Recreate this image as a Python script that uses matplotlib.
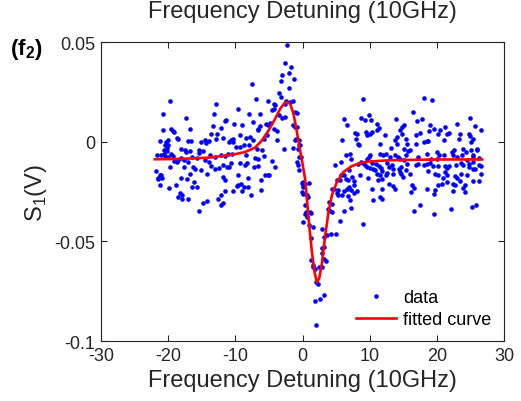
import numpy as np
import matplotlib.pyplot as plt

plt.rcParams['font.family'] = ['Liberation Sans', 'DejaVu Sans']
plt.rcParams['mathtext.fontset'] = 'custom'
plt.rcParams['mathtext.rm'] = 'Liberation Sans'
plt.rcParams['mathtext.bf'] = 'Liberation Sans:bold'
plt.rcParams['axes.unicode_minus'] = False

TXT = '#262626'

x_left = [
    -19.7, -12.9, -20.8, -13.2, -17.4, -11.5, -13.3, -20.8, -19.6, -19.2,
    -16.8, -12.1, -13.6, -12.8, -18.7, -18.5, -21.2, -20.0, -20.4, -17.1,
    -16.6, -15.1, -14.6, -14.0, -14.4, -12.9, -11.9, -20.2, -20.6, -18.1,
    -17.5, -16.8, -17.4, -15.5, -14.9, -15.4, -21.7, -21.1, -20.5, -19.6,
    -20.1, -18.1, -16.5, -15.8, -13.8, -13.0, -12.1, -11.5, -19.1, -18.7,
    -18.5, -17.6, -17.0, -14.5, -14.0, -19.8, -17.7, -16.3, -16.0, -15.1,
    -13.6, -13.0, -12.5, -11.9, -11.2, -21.8, -16.8, -14.2, -21.1, -21.5,
    -21.6, -20.9, -21.2, -18.1, -17.2, -11.8, -11.5, -16.2, -16.4, -15.7,
    -18.9, -19.9, -11.5, -18.2, -18.0, -18.6, -17.9, -17.1, -12.1, -12.6,
    -14.3, -14.9, -11.9, -12.1, -15.4, -19.3, -20.5, -20.1, -20.2, -20.6,
    -19.3, -21.2]
y_left = [
    0.0202, 0.0187, 0.0137, 0.0137, 0.0120, 0.0105, 0.0079, 0.0057, 0.0065, 0.0049,
    0.0065, 0.0070, 0.0037, 0.0037, 0.0020, 0.0015, 0.0005, 0.0007, -0.0002, 0.0002,
    0.0002, -0.0002, 0.0007, 0.0002, -0.0007, 0.0015, 0.0020, -0.0032, -0.0044, -0.0035,
    -0.0040, -0.0049, -0.0052, -0.0040, -0.0045, -0.0055, -0.0065, -0.0069, -0.0074, -0.0064,
    -0.0079, -0.0080, -0.0077, -0.0082, -0.0069, -0.0077, -0.0065, -0.0072, -0.0099, -0.0102,
    -0.0094, -0.0094, -0.0102, -0.0090, -0.0102, -0.0129, -0.0127, -0.0129, -0.0139, -0.0144,
    -0.0122, -0.0135, -0.0132, -0.0119, -0.0129, -0.0149, -0.0162, -0.0162, -0.0169, -0.0182,
    -0.0189, -0.0182, -0.0219, -0.0182, -0.0186, -0.0177, -0.0194, -0.0202, -0.0226, -0.0226,
    -0.0219, -0.0232, -0.0249, -0.0256, -0.0266, -0.0277, -0.0286, -0.0286, -0.0269, -0.0286,
    -0.0296, -0.0306, -0.0306, -0.0319, -0.0349, 0.0055, -0.0019, -0.0015, -0.0049, -0.0062,
    -0.0074, -0.0165]

x_peak = [
    -2.3, -2.6, -1.8, -3.1, -2.1, -1.3, -3.2, -7.6, -2.0, -3.5,
    -3.2, -7.0, -5.1, -4.3, -4.1, -2.5, -1.9, -1.5, -2.6, -9.7,
    -4.3, -4.6, -6.3, -8.0, -3.6, -3.1, -2.6, -11.4, -10.2, -9.0,
    -7.4, -5.5, -5.2, -4.9, -1.4, -1.1, -6.4, -6.6, -6.7, -4.2,
    -3.8, -9.4, -8.5, -7.8, -7.4, -5.3, -5.7, -10.6, -10.3, -11.0,
    -10.4, -3.8, -1.1, -9.9, -9.3, -8.7, -8.0, -6.8, -6.1, -2.8,
    -1.5, -0.7, -11.1, -10.5, -8.4, -7.1, -6.7, -5.7, -4.5, -0.9,
    -0.7, -10.7, -9.3, -8.6, -8.3, -7.3, -6.6, -11.0, -4.1, -9.6,
    -8.1, -5.6, -5.2, -5.0, -6.2, -9.6, -9.2, -9.8, -8.2, -8.8,
    -0.1, 0.1, -10.3, -9.0, -6.2, -7.7, 0.0]
y_peak = [
    0.0483, 0.0396, 0.0376, 0.0336, 0.0346, 0.0316, 0.0302, 0.0289, 0.0269, 0.0246,
    0.0226, 0.0214, 0.0204, 0.0191, 0.0182, 0.0202, 0.0199, 0.0202, 0.0187, 0.0164,
    0.0165, 0.0160, 0.0140, 0.0137, 0.0132, 0.0119, 0.0124, 0.0107, 0.0090, 0.0085,
    0.0099, 0.0089, 0.0085, 0.0094, 0.0085, 0.0074, 0.0077, 0.0065, 0.0057, 0.0065,
    0.0052, 0.0032, 0.0019, 0.0024, 0.0007, 0.0035, 0.0015, 0.0007, 0.0015, -0.0002,
    -0.0002, 0.0007, 0.0007, -0.0027, -0.0027, -0.0015, -0.0019, -0.0035, -0.0044, -0.0035,
    -0.0032, -0.0035, -0.0060, -0.0060, -0.0069, -0.0080, -0.0089, -0.0072, -0.0099, -0.0102,
    -0.0119, -0.0105, -0.0105, -0.0119, -0.0105, -0.0127, -0.0122, -0.0127, -0.0127, -0.0169,
    -0.0182, -0.0169, -0.0169, -0.0165, -0.0194, -0.0216, -0.0211, -0.0224, -0.0227, -0.0227,
    -0.0206, -0.0216, -0.0247, -0.0249, -0.0244, -0.0269, -0.0261]

x_dip = [
    -1.1, -0.9, -0.9, -1.0, -0.6, -0.5, -0.4, -0.5, -0.2, -0.5,
    0.0, 0.3, 0.9, 0.1, 0.6, 0.8, 0.4, 0.5, 1.1, 1.3,
    0.1, 1.0, 1.5, 1.2, 2.8, 3.6, 3.2, 3.1, 2.8, 2.9,
    1.3, 1.6, 1.5, 1.9, 2.4, 2.9, 3.2, 3.5, 2.0, 2.3,
    1.8, 2.5, 3.2, 2.0, 5.0, 4.2, 3.8, 4.3, 3.9, 4.4,
    4.1, 5.5, 6.1, 4.3, 4.7, 5.2, 5.1, 5.3, 5.8, 6.2,
    6.6, 6.9, 7.2, 7.6, 7.2, 7.1, 6.7, 8.1, 7.7, 7.6,
    5.7, 6.2, 6.9, 4.8, 5.7, 6.4, 5.9, 7.9, 8.2, 8.1,
    8.4, 7.8, 7.2, 8.3, 8.7, 9.0, 9.6, 9.8, 9.6, 9.7,
    9.0, 6.2, 6.6, 8.7, 9.2, 8.9, 9.9, 9.4, 0.4, 0.6,
    -0.1]
y_dip = [
    0.0149, 0.0145, 0.0074, 0.0015, 0.0007, -0.0015, -0.0019, -0.0077, -0.0077, -0.0144,
    -0.0202, -0.0211, -0.0206, -0.0227, -0.0266, -0.0277, -0.0316, -0.0353, -0.0353, -0.0356,
    -0.0403, -0.0416, -0.0428, -0.0483, -0.0440, -0.0470, -0.0480, -0.0528, -0.0558, -0.0533,
    -0.0595, -0.0620, -0.0628, -0.0637, -0.0628, -0.0628, -0.0587, -0.0600, -0.0704, -0.0712,
    -0.0799, -0.0787, -0.0771, -0.0918, -0.0461, -0.0463, -0.0336, -0.0311, -0.0302, -0.0353,
    -0.0345, -0.0400, -0.0350, -0.0239, -0.0239, -0.0244, -0.0256, -0.0266, -0.0269, -0.0249,
    -0.0236, -0.0227, -0.0244, -0.0256, -0.0333, -0.0294, -0.0272, -0.0249, -0.0219, -0.0199,
    -0.0165, -0.0169, -0.0144, -0.0119, -0.0102, -0.0065, 0.0007, 0.0015, -0.0010, 0.0040,
    -0.0015, 0.0045, -0.0089, -0.0110, -0.0102, -0.0105, -0.0085, -0.0077, -0.0127, -0.0182,
    -0.0411, 0.0112, 0.0085, 0.0119, 0.0107, 0.0212, 0.0135, 0.0049, -0.0361, -0.0378,
    -0.0252]

x_right_hi = [
    16.4, 18.0, 19.2, 10.1, 11.0, 11.4, 11.0, 10.3, 13.9, 14.5,
    15.1, 14.8, 17.0, 17.7, 17.5, 18.5, 19.0, 19.5, 20.1, 20.5,
    21.2, 21.5, 21.8, 22.9, 23.4, 24.9, 25.6, 26.6, 24.9, 25.3,
    25.0, 23.3, 24.8, 10.0, 12.3, 13.1, 13.8, 14.1, 14.8, 15.3,
    15.5, 16.9, 18.1, 18.7, 14.1, 9.5, 18.8, 20.0, 20.3, 22.2,
    22.5, 22.4, 23.8, 24.3, 23.0, 26.3, 25.4, 25.9, 26.0, 7.1,
    11.5, 12.0, 12.4, 11.5, 13.8, 14.2, 14.5, 15.0, 15.3, 15.7,
    16.0, 15.0, 16.9, 21.0, 25.1, 13.0, 17.2, 18.5, 19.1, 20.0,
    21.0, 23.7, 24.4, 25.3]
y_right_hi = [
    0.0149, 0.0219, 0.0211, 0.0107, 0.0090, 0.0069, 0.0057, 0.0049, 0.0112, 0.0057,
    0.0085, 0.0074, 0.0102, 0.0115, 0.0045, 0.0002, 0.0082, 0.0065, 0.0040, 0.0057,
    0.0074, 0.0040, 0.0045, 0.0090, 0.0040, 0.0120, 0.0077, 0.0057, 0.0029, 0.0012,
    -0.0002, 0.0012, 0.0040, 0.0040, 0.0032, -0.0030, 0.0007, 0.0024, 0.0040, 0.0012,
    -0.0010, 0.0032, -0.0002, 0.0002, -0.0010, 0.0032, 0.0052, -0.0052, -0.0065, -0.0052,
    -0.0044, -0.0065, -0.0039, -0.0052, -0.0077, -0.0082, -0.0069, -0.0035, -0.0044, -0.0060,
    -0.0060, -0.0067, -0.0060, -0.0010, -0.0069, -0.0077, -0.0085, -0.0094, -0.0069, -0.0049,
    -0.0044, -0.0035, -0.0010, 0.0007, -0.0044, -0.0077, -0.0077, -0.0060, -0.0085, -0.0089,
    -0.0069, -0.0069, -0.0094, -0.0077]

x_right_lo = [
    10.0, 10.3, 10.9, 11.3, 11.7, 12.6, 13.3, 13.5, 15.5, 15.3,
    14.5, 16.9, 17.2, 18.0, 18.5, 19.0, 18.7, 19.4, 20.2, 21.2,
    21.7, 21.5, 22.8, 23.5, 23.8, 24.8, 24.7, 25.3, 25.4, 26.2,
    26.5, 25.7, 9.3, 10.0, 10.5, 10.8, 11.8, 12.4, 12.8, 13.5,
    14.3, 14.7, 7.3, 8.5, 11.0, 11.5, 11.8, 12.5, 14.6, 16.0,
    19.7, 20.2, 21.1, 21.5, 20.9, 22.6, 22.9, 23.5, 24.4, 25.4,
    26.3, 26.6, 11.2, 12.8, 14.9, 5.1, 5.6, 6.5, 6.8, 16.3,
    16.5, 16.1, 18.5, 19.7, 20.1, 20.7, 21.5, 22.4, 22.7, 23.4,
    23.9, 24.2, 10.3, 11.8, 13.5, 13.8, 22.3, 24.2, 10.4, 11.5,
    11.8, 16.6, 17.4, 19.5, 22.1, 25.2, 25.8, 19.5]
y_right_lo = [
    -0.0069, -0.0105, -0.0110, -0.0122, -0.0132, -0.0105, -0.0119, -0.0135, -0.0110, -0.0144,
    -0.0152, -0.0119, -0.0110, -0.0115, -0.0110, -0.0105, -0.0149, -0.0122, -0.0122, -0.0122,
    -0.0124, -0.0132, -0.0115, -0.0105, -0.0119, -0.0110, -0.0127, -0.0102, -0.0135, -0.0115,
    -0.0122, -0.0139, -0.0119, -0.0132, -0.0135, -0.0144, -0.0149, -0.0165, -0.0127, -0.0160,
    -0.0135, -0.0127, -0.0177, -0.0165, -0.0160, -0.0165, -0.0186, -0.0155, -0.0160, -0.0160,
    -0.0164, -0.0169, -0.0152, -0.0165, -0.0182, -0.0172, -0.0182, -0.0160, -0.0169, -0.0199,
    -0.0199, -0.0160, -0.0194, -0.0211, -0.0177, -0.0194, -0.0194, -0.0186, -0.0194, -0.0219,
    -0.0232, -0.0252, -0.0236, -0.0244, -0.0216, -0.0211, -0.0202, -0.0211, -0.0219, -0.0199,
    -0.0232, -0.0219, -0.0236, -0.0236, -0.0222, -0.0236, -0.0249, -0.0252, -0.0294, -0.0277,
    -0.0286, -0.0345, -0.0319, -0.0361, -0.0336, -0.0327, -0.0316, -0.0261]

# fitted curve
fit_x = [-22.0, -18.0, -14.0, -11.5, -10.0, -8.6, -7.1, -6.1, -5.1, -4.1,
         -3.35, -2.7, -2.35, -1.86, -1.37, -0.97, -0.52, -0.03, 0.37, 0.62,
         0.97, 1.37, 1.76, 2.1, 2.46, 2.86, 3.35, 3.84, 4.34, 5.09,
         6.07, 7.32, 8.8, 10.0, 13.0, 18.0, 22.0, 26.7]
fit_y = [-0.0088, -0.0086, -0.0080, -0.0070, -0.0062, -0.0052, -0.0030, 0.0005, 0.0055, 0.0115,
         0.0165, 0.0194, 0.0199, 0.0190, 0.0140, 0.0070, -0.0019, -0.0110, -0.0190, -0.0286,
         -0.0420, -0.0553, -0.0654, -0.0704, -0.0685, -0.0610, -0.0470, -0.0353, -0.0269, -0.0202,
         -0.0152, -0.0122, -0.0105, -0.0099, -0.0093, -0.0090, -0.0089, -0.0089]

x_data = np.concatenate([x_left, x_peak, x_dip, x_right_hi, x_right_lo])
y_data = np.concatenate([y_left, y_peak, y_dip, y_right_hi, y_right_lo])

fig = plt.figure(figsize=(5.21, 4.02), dpi=100)
ax = fig.add_axes([0.194, 0.149, 0.774, 0.744])

ax.plot(x_data, y_data, 'o', color='#0000ff', markersize=3.3, markeredgewidth=0, label='data')
ax.plot(fit_x, fit_y, '-', color='#ff0000', linewidth=1.9, label='fitted curve')

ax.set_xlim(-30, 30)
ax.set_ylim(-0.1, 0.05)
ax.set_xticks([-30, -20, -10, 0, 10, 20, 30])
ax.set_yticks([-0.1, -0.05, 0, 0.05])
ax.set_yticklabels(['-0.1', '-0.05', '0', '0.05'])
ax.tick_params(direction='in', top=True, right=True, length=4, width=0.8,
               labelsize=13, colors=TXT, pad=4)
for s in ax.spines.values():
    s.set_color(TXT)
    s.set_linewidth(0.8)

ax.set_xlabel('Frequency Detuning (10GHz)', fontsize=17, color=TXT, labelpad=4)
ax.set_ylabel(r'S$_\mathregular{1}$(V)', fontsize=17, color=TXT, labelpad=4)
fig.text(0.5806, 0.97, 'Frequency Detuning (10GHz)', fontsize=17, color=TXT,
         ha='center', va='center')
fig.text(0.02, 0.878, r'(f$_\mathbf{2}$)', fontsize=16, fontweight='bold',
         color='black', ha='left', va='center')

leg = ax.legend(loc='lower right', bbox_to_anchor=(1.0, 0.0), frameon=False,
                fontsize=13, handlelength=2.2, handletextpad=0.4,
                labelspacing=0.3, borderaxespad=0.3)
for t in leg.get_texts():
    t.set_color('black')

fig.savefig('out.png', dpi=100)
